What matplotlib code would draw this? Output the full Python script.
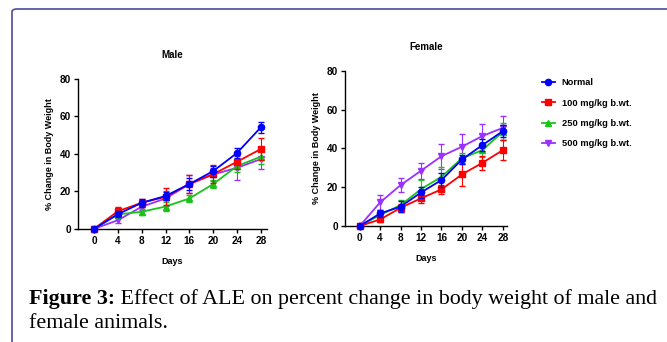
import matplotlib.pyplot as plt
from matplotlib.patches import FancyBboxPatch

days = [0, 4, 8, 12, 16, 20, 24, 28]
groups = ['Normal', '100 mg/kg b.wt.', '250 mg/kg b.wt.', '500 mg/kg b.wt.']

# Male: mean % change and error
male_normal = [0, 7.8, 13.9, 17.5, 23.9, 30.8, 40.5, 54.2]
male_100 = [0, 9.4, 13.9, 17.1, 23.9, 29.2, 35.8, 42.6]
male_250 = [0, 7.7, 9.1, 11.9, 16.2, 23.9, 33.5, 38.5]
male_500 = [0, 4.6, 11.8, 16.2, 23.9, 29.0, 32.6, 37.2]
male_normal_err = [0.5, 1.5, 2.0, 2.0, 3.0, 3.0, 2.5, 3.0]
male_100_err = [0.5, 2.5, 2.0, 4.5, 5.0, 5.0, 4.0, 6.0]
male_250_err = [0.5, 2.0, 1.5, 2.5, 2.0, 2.0, 3.0, 4.0]
male_500_err = [0.5, 1.5, 2.0, 4.0, 5.0, 3.5, 6.5, 5.5]

# Female
female_normal = [0, 6.5, 10.0, 17.3, 23.7, 34.3, 41.7, 48.9]
female_100 = [0, 3.4, 9.4, 14.3, 18.9, 26.6, 32.6, 39.1]
female_250 = [0, 5.7, 10.8, 19.0, 25.4, 34.9, 39.1, 48.6]
female_500 = [0, 12.2, 21.1, 28.5, 36.0, 40.9, 46.4, 50.6]
female_normal_err = [0.5, 2.0, 3.0, 3.0, 3.5, 2.5, 3.0, 3.0]
female_100_err = [0.5, 1.5, 2.0, 2.5, 2.5, 6.0, 3.5, 5.0]
female_250_err = [0.5, 2.0, 2.5, 4.5, 5.0, 3.0, 3.5, 4.5]
female_500_err = [0.5, 4.0, 3.5, 4.0, 6.5, 6.5, 6.0, 6.0]

colors = ['#0000ff', '#ff0000', '#18c418', '#9b30ff']
markers = ['o', 's', '^', 'v']
order = [3, 2, 1, 0]  # draw Normal on top

plt.rcParams['font.family'] = 'Liberation Sans'
plt.rcParams['font.weight'] = 'bold'

fig = plt.figure(figsize=(6.67, 3.42), dpi=100)

# page frame (top + left border only)
frame = FancyBboxPatch((12 / 667, -0.2), 1.2, 1.2 - 9 / 342,
                       boxstyle='round,pad=0,rounding_size=0.008',
                       transform=fig.transFigure, fill=False,
                       edgecolor='#5a57a3', linewidth=1.3, clip_on=False)
fig.patches.append(frame)


def panel(rect, xlim, title, series, errs):
    ax = fig.add_axes(rect)
    for i in order:
        ax.errorbar(days, series[i], yerr=errs[i], color=colors[i], marker=markers[i],
                    markersize=4.5, linewidth=1.3, elinewidth=0.8, capsize=2,
                    ecolor=colors[i], clip_on=False, zorder=3 + (3 - i))
    ax.set_xlim(*xlim)
    ax.set_ylim(0, 80)
    ax.set_xticks(days)
    ax.set_yticks([0, 20, 40, 60, 80])
    ax.spines['top'].set_visible(False)
    ax.spines['right'].set_visible(False)
    for s in ['left', 'bottom']:
        ax.spines[s].set_linewidth(1.0)
    ax.tick_params(labelsize=7.2, length=3, width=1.0, pad=2)
    ax.set_title(title, fontsize=7, fontweight='bold', pad=15)
    ax.set_xlabel('Days', fontsize=6.5, fontweight='bold', labelpad=8)
    ax.set_ylabel('% Change in Body Weight', fontsize=6.5, fontweight='bold', labelpad=4)
    return ax


panel([0.117, 0.331, 0.283, 0.438], (-2.7, 29.0), 'Male',
      [male_normal, male_100, male_250, male_500],
      [male_normal_err, male_100_err, male_250_err, male_500_err])
panel([0.517, 0.339, 0.243, 0.454], (-2.9, 28.8), 'Female',
      [female_normal, female_100, female_250, female_500],
      [female_normal_err, female_100_err, female_250_err, female_500_err])

handles = [plt.Line2D([], [], color=colors[i], marker=markers[i], markersize=4.5,
                      linewidth=1.3) for i in range(4)]
fig.legend(handles, groups, loc='upper left', bbox_to_anchor=(0.80, 0.795),
           frameon=False, fontsize=6.7, handlelength=1.4, handletextpad=0.7,
           labelspacing=1.2)

# caption: bold label followed by regular text
cap = fig.add_axes([0, 0, 1, 1])
cap.axis('off')
cap.set_xlim(0, 1)
cap.set_ylim(0, 1)
lab = cap.text(29 / 667, 1 - 304 / 342, 'Figure 3:', fontsize=15.8,
               family='Liberation Serif', fontweight='bold', va='baseline')
cap.annotate(' Effect of ALE on percent change in body weight of male and',
             xy=(1, 0), xycoords=lab, va='bottom', ha='left',
             fontsize=15.8, family='Liberation Serif', fontweight='normal')
cap.text(29 / 667, 1 - 328 / 342, 'female animals.', fontsize=15.8,
         family='Liberation Serif', fontweight='normal', va='baseline')
fig.savefig('out.png', dpi=100)
